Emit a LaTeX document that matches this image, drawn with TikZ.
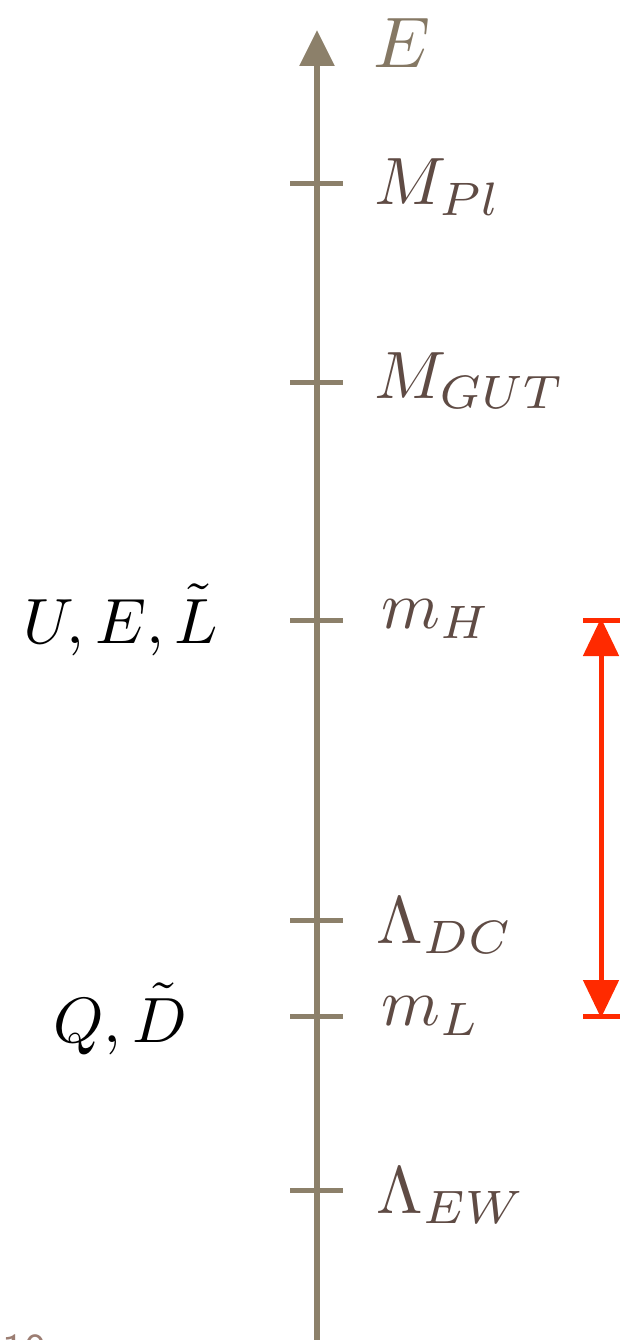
\documentclass[tikz,border=0pt]{standalone}
\usetikzlibrary{arrows.meta}
\definecolor{axisc}{HTML}{8C806A}
\definecolor{labc}{HTML}{5F4B44}
\definecolor{redc}{HTML}{FF2A00}
\definecolor{pagec}{HTML}{9C7E73}
\begin{document}
\begin{tikzpicture}[x=1pt,y=-1pt,
  axisline/.style={draw=axisc,line width=6pt},
  tick/.style={draw=axisc,line width=5pt},
  lab/.style={anchor=base west,inner sep=0pt,text=labc,font=\fontsize{10}{12}\selectfont,scale=6.7,transform shape},
  leftlab/.style={anchor=base west,inner sep=0pt,text=black,font=\fontsize{10}{12}\selectfont,scale=6.4,transform shape},
  redline/.style={draw=redc,line width=5pt}]
\useasboundingbox (0,0) rectangle (622,1340);
\begin{scope}
\clip (0,0) rectangle (622,1340);
% axis
\coordinate (bot) at (317,1345);
\coordinate (top) at (317,30);
\draw[axisline,-{Triangle[length=36pt,width=34pt]}] (bot) -- (top);
\node[lab,scale=1.07,text=axisc!85!labc] (E) at (372,68) {$E$};
% ticks
\foreach \n/\y in {pl/184,gut/382,mh/620,dc/920,ml/1016,ew/1190}{
  \coordinate (\n L) at (290,\y);
  \coordinate (\n R) at (343,\y);
  \draw[tick] (\n L) -- (\n R);
}
\node[lab] (Mpl) at (373,205) {$M_{Pl}$};
\node[lab] (Mgut) at (373,398) {$M_{GUT}$};
\node[lab] (mH) at (380,628) {$m_H$};
\node[lab] (Ldc) at (375,943) {$\Lambda_{DC}$};
\node[lab] (mL) at (380,1025) {$m_L$};
\node[lab] (Lew) at (375,1213) {$\Lambda_{EW}$};
\node[leftlab] (UEL) at (22,643) {$U,E,\tilde L$};
\node[leftlab] (QD) at (52,1042) {$Q,\tilde D$};
% red arrow
\coordinate (rt) at (601,620);
\coordinate (rb) at (601,1016);
\coordinate (rtl) at (583,620);
\coordinate (rtr) at (620,620);
\coordinate (rbl) at (583,1016);
\coordinate (rbr) at (620,1016);
\draw[redline] (rtl) -- (rtr);
\draw[redline] (rbl) -- (rbr);
\draw[redline,{Triangle[length=38pt,width=35pt]}-{Triangle[length=38pt,width=35pt]}] ([yshift=2pt]rt) -- ([yshift=-2pt]rb);
% page number (cut off)
\node[anchor=base west,inner sep=0pt,text=pagec,font=\sffamily\fontsize{10}{12}\selectfont,scale=4.4,transform shape] (pg) at (2,1364) {10};
\end{scope}
\end{tikzpicture}
\end{document}
